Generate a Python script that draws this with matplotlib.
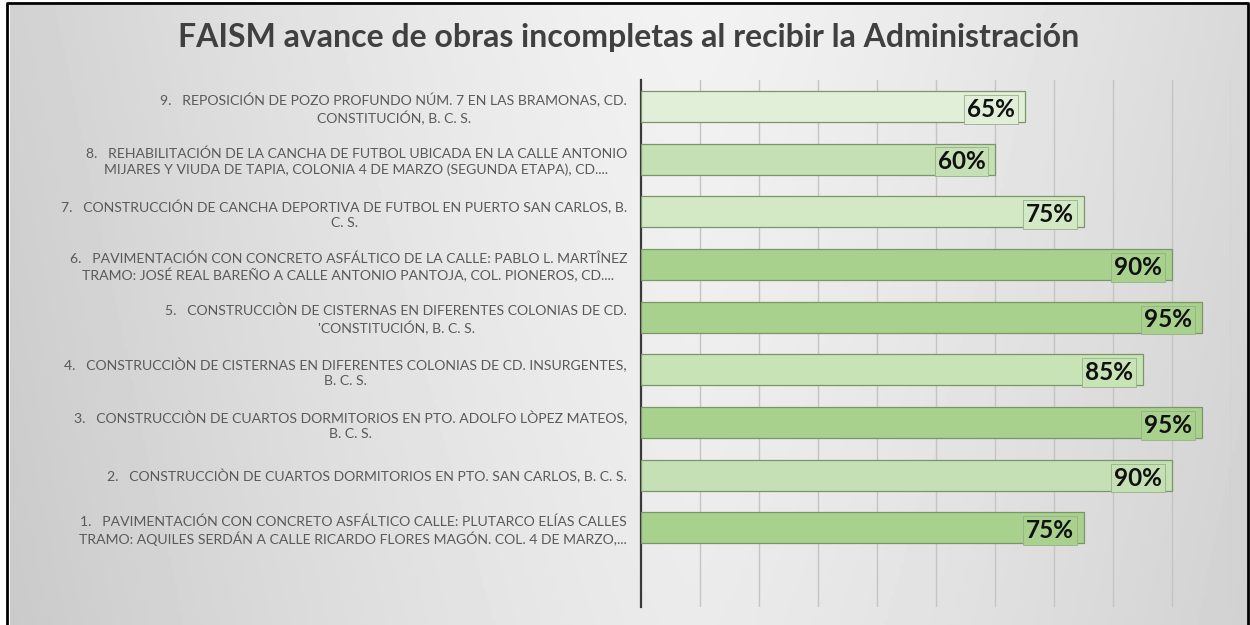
import numpy as np
import matplotlib
matplotlib.use("Agg")
import matplotlib.pyplot as plt
from matplotlib.lines import Line2D

# data, bottom to top
labels = [
    "1.   PAVIMENTACIÓN CON CONCRETO ASFÁLTICO CALLE: PLUTARCO ELÍAS CALLES\n"
    "TRAMO: AQUILES SERDÁN A CALLE RICARDO FLORES MAGÓN. COL. 4 DE MARZO,...",
    "2.   CONSTRUCCIÒN DE CUARTOS DORMITORIOS EN PTO. SAN CARLOS, B. C. S.",
    "3.   CONSTRUCCIÒN DE CUARTOS DORMITORIOS EN PTO. ADOLFO LÒPEZ MATEOS,\nB. C. S.",
    "4.   CONSTRUCCIÒN DE CISTERNAS EN DIFERENTES COLONIAS DE CD. INSURGENTES,\nB. C. S.",
    "5.   CONSTRUCCIÒN DE CISTERNAS EN DIFERENTES COLONIAS DE CD.\n'CONSTITUCIÓN, B. C. S.",
    "6.   PAVIMENTACIÓN CON CONCRETO ASFÁLTICO DE LA CALLE: PABLO L. MARTÎNEZ\n"
    "TRAMO: JOSÉ REAL BAREÑO A CALLE ANTONIO PANTOJA, COL. PIONEROS, CD....",
    "7.   CONSTRUCCIÓN DE CANCHA DEPORTIVA DE FUTBOL EN PUERTO SAN CARLOS, B.\nC. S.",
    "8.   REHABILITACIÓN DE LA CANCHA DE FUTBOL UBICADA EN LA CALLE ANTONIO\n"
    "MIJARES Y VIUDA DE TAPIA, COLONIA 4 DE MARZO (SEGUNDA ETAPA), CD....",
    "9.   REPOSICIÓN DE POZO PROFUNDO NÚM. 7 EN LAS BRAMONAS, CD.\nCONSTITUCIÓN, B. C. S.",
]
avance = [75, 90, 95, 85, 95, 90, 75, 60, 65]
colores = ["#a9d18e", "#c5e0b4", "#a9d18e", "#c8e3b6", "#a9d18e",
           "#a9d18e", "#d3e9c6", "#c5e0b4", "#e1efd8"]

fig = plt.figure(figsize=(12.5, 6.25), dpi=100)
fig.patch.set_facecolor("white")

# gray gradient background
bg = fig.add_axes([0.008, 0.0, 0.989, 0.992])
xs = np.linspace(0, 1, 400)
ys = np.linspace(0, 1, 200)
X, Y = np.meshgrid(xs, ys)
shade = 0.95 - 0.28 * np.abs(X - 0.55) ** 1.3 - 0.03 * Y
bg.imshow(shade, cmap="gray", vmin=0, vmax=1, aspect="auto", extent=[0, 1, 0, 1])
bg.set_axis_off()

# frame: left, top, right
frame_x = [0.0056, 0.0056, 0.9984, 0.9984]
frame_y = [0.0, 0.9952, 0.9952, 0.0]
fig.add_artist(Line2D(frame_x, frame_y, transform=fig.transFigure,
                      color="black", linewidth=2))

ax = fig.add_axes([0.5128, 0.0288, 0.472, 0.8432])
ax.set_facecolor("none")
pos = np.arange(len(avance))
ax.barh(pos, avance, height=0.59, color=colores,
        edgecolor="#7a9568", linewidth=0.9, zorder=3)

for y, v, c in zip(pos, avance, colores):
    ax.annotate(f"{v}%", xy=(v, y), xytext=(-7, -2), textcoords="offset points",
                ha="right", va="center", fontsize=17.5, fontweight="bold",
                family="Lato", color="#111111", zorder=4,
                bbox=dict(boxstyle="square,pad=0.12", facecolor=c,
                          edgecolor="#97b088", linewidth=0.6))

ax.set_xlim(0, 100)
ax.set_ylim(-1.5, 8.5)
ax.set_xticks(np.arange(10, 101, 10))
ax.xaxis.grid(True, color="#c4c4c4", linewidth=1.0, zorder=0)
ax.tick_params(axis="x", length=0, labelbottom=False)
ax.set_yticks(pos)
ax.set_yticklabels(labels, fontsize=10.1, family="Lato", color="#595959")
ax.tick_params(axis="y", length=0, pad=10)
for lbl in ax.get_yticklabels():
    lbl.set_multialignment("center")
    lbl.set_linespacing(1.3)

for side in ["top", "right", "bottom"]:
    ax.spines[side].set_visible(False)
ax.spines["left"].set_color("#3a3a3a")
ax.spines["left"].set_linewidth(1.6)

fig.text(0.503, 0.94, "FAISM avance de obras incompletas al recibir la Administración",
         ha="center", va="center", fontsize=23, fontweight="bold",
         family="Lato", color="#404040")

fig.savefig("out.png", dpi=100)
